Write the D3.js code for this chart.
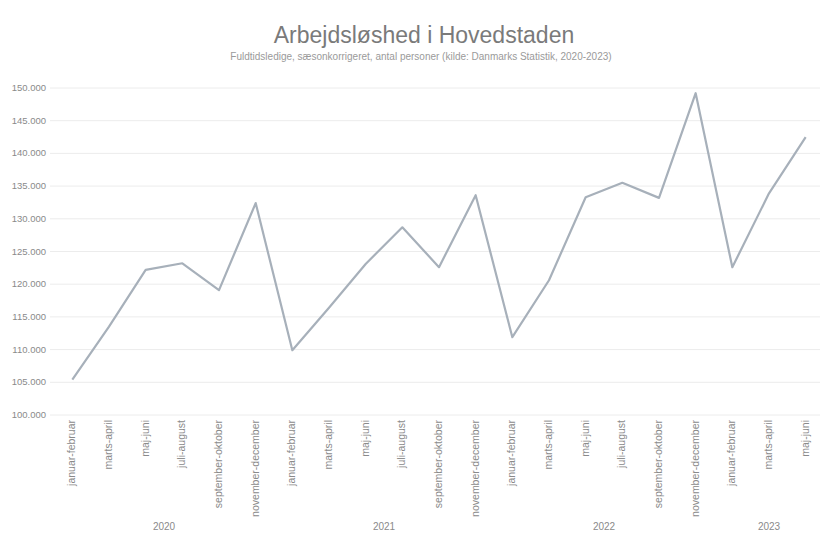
<!DOCTYPE html>
<html><head><meta charset="utf-8">
<script src="https://cdn.jsdelivr.net/npm/d3@7"></script>
<style>body{margin:0;background:#fff;font-family:"Liberation Sans",Arial,sans-serif;}</style>
</head><body><svg id="c" width="835" height="535"></svg>
<script>
const periodNames = ["januar-februar","marts-april","maj-juni","juli-august","september-oktober","november-december"];
const years = ["2020","2021","2022","2023"];
const periods = [
 "januar-februar 2020","marts-april 2020","maj-juni 2020","juli-august 2020","september-oktober 2020","november-december 2020",
 "januar-februar 2021","marts-april 2021","maj-juni 2021","juli-august 2021","september-oktober 2021","november-december 2021",
 "januar-februar 2022","marts-april 2022","maj-juni 2022","juli-august 2022","september-oktober 2022","november-december 2022",
 "januar-februar 2023","marts-april 2023","maj-juni 2023"];
const values = [105400,113500,122200,123200,119100,132400,109900,116400,123100,128700,122600,133600,111900,120600,133300,135500,133200,149200,122600,133900,142500];
const yTicks = [100000,105000,110000,115000,120000,125000,130000,135000,140000,145000,150000];
const title = "Arbejdsløshed i Hovedstaden";
const subtitle = "Fuldtidsledige, sæsonkorrigeret, antal personer (kilde: Danmarks Statistik, 2020-2023)";

const svg = d3.select("#c");
const x = d3.scaleBand().domain(periods).range([54,824]);
const y = d3.scaleLinear().domain([100000,150000]).range([415,88]);
const fmt = v => d3.format(",")(v).replace(/,/g,".");

svg.append("text").attr("x",424).attr("y",43).attr("text-anchor","middle")
  .attr("font-size",23).attr("fill","#7a7a7a").text(title);
svg.append("text").attr("x",421).attr("y",60).attr("text-anchor","middle")
  .attr("font-size",10).attr("fill","#9a9a9a").text(subtitle);

const g = svg.append("g");
g.selectAll("line.grid").data(yTicks).join("line").attr("class","grid")
  .attr("x1",50).attr("x2",820).attr("y1",d=>y(d)).attr("y2",d=>y(d))
  .attr("stroke","#ececec").attr("stroke-width",1);
g.selectAll("text.yl").data(yTicks).join("text").attr("class","yl")
  .attr("x",46).attr("y",d=>y(d)+3).attr("text-anchor","end")
  .attr("font-size",9.5).attr("fill","#8a8a8a").text(fmt);

// category labels
g.selectAll("text.xl").data(periods).join("text").attr("class","xl")
  .attr("transform",d=>`translate(${x(d)+x.bandwidth()/2+3},420) rotate(-90)`)
  .attr("text-anchor","end").attr("font-size",10.5).attr("fill","#8a8a8a")
  .text(d=>d.split(" ")[0]);

// year labels
years.forEach(yr=>{
  const ps = periods.filter(p=>p.endsWith(yr));
  const cx = (x(ps[0]) + x(ps[ps.length-1]) + x.bandwidth())/2;
  g.append("text").attr("x",cx).attr("y",530).attr("text-anchor","middle")
   .attr("font-size",10).attr("fill","#8a8a8a").text(yr);
});

const line = d3.line().x((d,i)=>x(periods[i])+x.bandwidth()/2).y(d=>y(d));
g.append("path").datum(values).attr("d",line).attr("fill","none")
  .attr("stroke","#a7b0ba").attr("stroke-width",2.2).attr("stroke-linejoin","round");
</script></body></html>
